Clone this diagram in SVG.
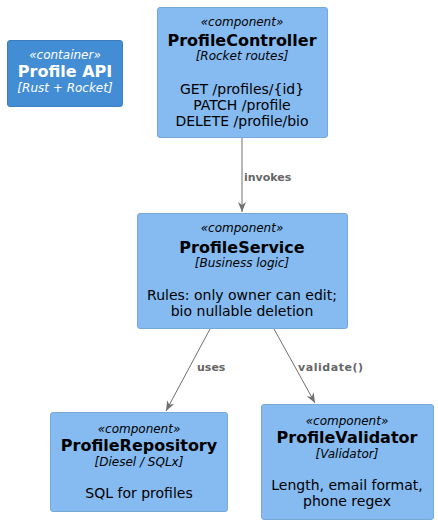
<svg xmlns="http://www.w3.org/2000/svg" width="438" height="524" viewBox="0 0 438 524">
<style>
text{font-family:"DejaVu Sans","Liberation Sans",sans-serif;text-anchor:middle}
.comp{fill:#85BBF0;stroke:#78A8D8;stroke-width:1}
.cont{fill:#438DD5;stroke:#3C7FC0;stroke-width:1}
.st{font-size:12px;font-style:italic;fill:#000}
.nm{font-size:16px;font-weight:bold;fill:#000}
.te{font-size:12px;font-style:italic;fill:#000}
.ds{font-size:14px;fill:#000}
.w{fill:#FFFFFF}
.edge{stroke:#707070;stroke-width:1;fill:none}
.lbl{font-size:11px;font-weight:bold;fill:#666666;text-anchor:start}
</style>
<defs>
<marker id="arr" viewBox="0 0 10 10" refX="10" refY="5" markerWidth="10" markerHeight="10" markerUnits="userSpaceOnUse" orient="auto">
<path d="M0,1 L10,5 L0,9 L3,5 Z" fill="#707070"/>
</marker>
</defs>
<g id="container">
<rect class="cont" x="7.5" y="40.5" width="115" height="66" rx="2.5"/>
<text class="st w" x="65" y="59">«container»</text>
<text class="nm w" x="65" y="77">Profile API</text>
<text class="te w" x="65" y="92">[Rust + Rocket]</text>
</g>
<g id="ProfileController">
<rect class="comp" x="157.5" y="7.5" width="170" height="130" rx="2.5"/>
<text class="st" x="242" y="26">«component»</text>
<text class="nm" x="242" y="46">ProfileController</text>
<text class="te" x="242" y="60">[Rocket routes]</text>
<text class="ds" x="242" y="94">GET /profiles/{id}</text>
<text class="ds" x="242" y="110">PATCH /profile</text>
<text class="ds" x="242" y="126">DELETE /profile/bio</text>
</g>
<g id="ProfileService">
<rect class="comp" x="137.5" y="213.5" width="210" height="115" rx="2.5"/>
<text class="st" x="242" y="232">«component»</text>
<text class="nm" x="242" y="253">ProfileService</text>
<text class="te" x="242" y="267">[Business logic]</text>
<text class="ds" x="242" y="300">Rules: only owner can edit;</text>
<text class="ds" x="242" y="316">bio nullable deletion</text>
</g>
<g id="ProfileRepository">
<rect class="comp" x="50.5" y="412.5" width="177" height="99" rx="2.5"/>
<text class="st" x="139" y="433">«component»</text>
<text class="nm" x="139" y="451">ProfileRepository</text>
<text class="te" x="139" y="466">[Diesel / SQLx]</text>
<text class="ds" x="139" y="498">SQL for profiles</text>
</g>
<g id="ProfileValidator">
<rect class="comp" x="261.5" y="404.5" width="172" height="115" rx="2.5"/>
<text class="st" x="347" y="425">«component»</text>
<text class="nm" x="347" y="443">ProfileValidator</text>
<text class="te" x="347" y="458">[Validator]</text>
<text class="ds" x="347" y="490">Length, email format,</text>
<text class="ds" x="347" y="506">phone regex</text>
</g>
<g id="connectors">
<line class="edge" x1="242" y1="138" x2="242" y2="212" marker-end="url(#arr)"/>
<text class="lbl" x="244" y="181">invokes</text>
<line class="edge" x1="210" y1="329" x2="166" y2="411" marker-end="url(#arr)"/>
<text class="lbl" x="197" y="371">uses</text>
<line class="edge" x1="274" y1="329" x2="315" y2="403" marker-end="url(#arr)"/>
<text class="lbl" x="298" y="371" textLength="65">validate()</text>
</g>
</svg>
